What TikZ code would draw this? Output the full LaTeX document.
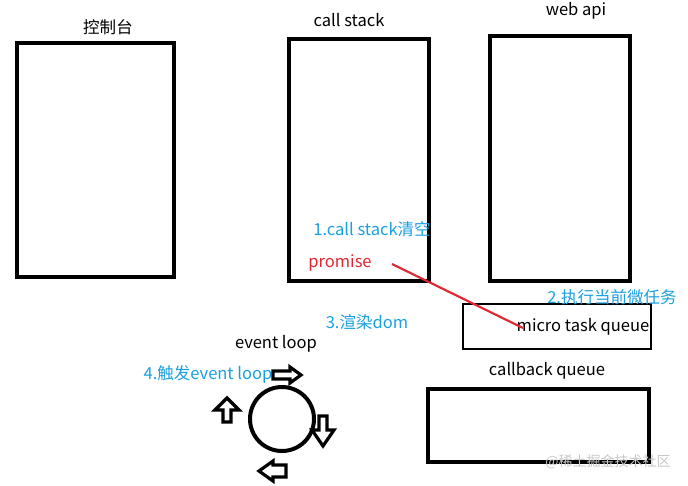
\documentclass[tikz,border=0pt]{standalone}
\usepackage{fontspec}
\setmainfont{Noto Sans CJK SC}
\begin{document}
\begin{tikzpicture}[x=0.75pt,y=-0.75pt,
  box/.style={draw=black,line width=3.2pt},
  thinbox/.style={draw=black,line width=1.7pt},
  lbl/.style={font=\fontsize{12.4}{14}\selectfont,text=black,inner sep=0pt},
  blbl/.style={font=\fontsize{12.4}{14}\selectfont,text=stepblue,inner sep=0pt},
  rlbl/.style={font=\fontsize{12.4}{14}\selectfont,text=stepred,inner sep=0pt},
  blockarrow/.style={draw=black,line width=2.4pt,fill=white,line join=miter}]
\definecolor{stepblue}{RGB}{27,160,224}
\definecolor{stepred}{RGB}{224,40,48}
\definecolor{wmgray}{RGB}{200,200,200}
\useasboundingbox[fill=white] (0,0) rectangle (688,485);
% boxes
\draw[box] (17,43) rectangle (174,277);
\draw[box] (289,39) rectangle (429,281);
\draw[box] (490,36) rectangle (630,281);
\draw[thinbox] (463,304) rectangle (651,349);
\draw[box] (428,389) rectangle (649,462);
% titles
\node[lbl] (tconsole) at (108,27) {控制台};
\node[lbl] (tstack) at (349,20) {call stack};
\node[lbl] (tweb) at (576,11) {web api};
\node[lbl] (tmicro) at (583,327) {micro task queue};
\node[lbl] (tloop) at (276,344) {event loop};
\node[lbl] (tcb) at (547,371) {callback queue};
% steps
\node[blbl] (s1) at (372,229) {1.call stack清空};
\node[rlbl] (prom) at (340,263) {promise};
\node[blbl] (s2) at (612,297) {2.执行当前微任务};
\node[blbl] (s3) at (367,322) {3.渲染dom};
\node[blbl] (s4) at (208,374) {4.触发event loop};
% red line
\coordinate (rs) at (392,264);
\coordinate (re) at (523,328);
\draw[stepred,line width=1.6pt] (rs) -- (re);
% circle
\node[draw=black,line width=3pt,circle,minimum size=48pt,inner sep=0pt] (loop) at (282,419) {};
% block arrows
\draw[blockarrow] (273,371) -- (290,371) -- (290,367) -- (301,375) -- (290,383) -- (290,379) -- (273,379) -- cycle;
\draw[blockarrow] (223,422) -- (223,410) -- (215,410) -- (227,398) -- (239,410) -- (231,410) -- (231,422) -- cycle;
\draw[blockarrow] (319,416) -- (327,416) -- (327,430) -- (334,430) -- (323,446) -- (312,430) -- (319,430) -- cycle;
\draw[blockarrow] (286,465) -- (273,465) -- (273,461) -- (259,471) -- (273,481) -- (273,477) -- (286,477) -- cycle;
% watermark
\node[font=\fontsize{10.5}{12}\selectfont,text=wmgray,inner sep=0pt] (wm) at (608,462) {@稀土掘金技术社区};
\end{tikzpicture}
\end{document}
